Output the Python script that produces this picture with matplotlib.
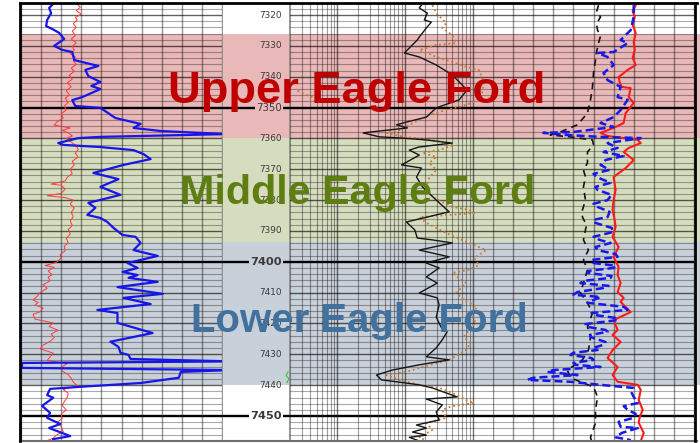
import matplotlib.pyplot as plt
from matplotlib.lines import Line2D
from matplotlib.transforms import blended_transform_factory

# ---- depth window and zones (ft) ----
top_depth, base_depth = 7316.1, 7458.1

zone_names = ['Upper Eagle Ford', 'Middle Eagle Ford', 'Lower Eagle Ford']
zone_tops = [7326.2, 7360.0, 7393.6]
zone_bases = [7360.0, 7393.6, 7440.0]
zone_fill = ['#E9B8B8', '#D6DDBF', '#C8D0D9']
zone_font = ['#C00000', '#5E7E12', '#41719C']
zone_size = [32.6, 29.7, 28.9]
zone_label_depth = [7348.5, 7381.3, 7422.7]

# ---- track 1: gamma ray (blue) and SP (red), scale 0-200 ----
gr_depth = [7316.4, 7317.7, 7319.4, 7321.6, 7323.6, 7324.5, 7325.8, 7327.8, 7330.0, 7331.3,
            7332.0, 7334.6, 7335.9, 7336.5, 7337.8, 7339.8, 7341.7, 7343.0, 7344.0, 7346.6,
            7347.6, 7349.5, 7350.1, 7353.4, 7355.3, 7356.6, 7357.6, 7358.6, 7359.5, 7359.9,
            7361.5, 7362.1, 7362.8, 7363.8, 7365.1, 7366.7, 7368.6, 7371.2, 7373.2, 7375.7,
            7378.3, 7380.9, 7382.5, 7384.8, 7385.8, 7387.1, 7389.0, 7391.3, 7391.9, 7393.9,
            7396.2, 7398.1, 7400.4, 7402.0, 7403.3, 7404.3, 7405.2, 7406.5, 7408.2, 7410.4,
            7411.7, 7413.7, 7415.6, 7416.6, 7419.8, 7423.1, 7425.9, 7427.6, 7429.5, 7430.2,
            7431.5, 7432.3, 7432.8, 7434.4, 7435.1, 7435.7, 7437.6, 7439.3, 7440.6, 7441.2,
            7443.2, 7444.1, 7446.7, 7449.0, 7450.6, 7452.6, 7453.9, 7455.5, 7456.5, 7457.5]
gr = [32, 28, 30, 26, 25, 31, 38, 43, 33, 41,
      51, 53, 69, 77, 64, 67, 79, 70, 79, 61,
      51, 54, 79, 94, 119, 112, 139, 205, 79, 57,
      37, 42, 79, 112, 122, 129, 102, 72, 97, 79,
      99, 67, 74, 66, 79, 86, 92, 101, 114, 119,
      112, 136, 106, 116, 101, 116, 107, 136, 96, 141,
      102, 129, 76, 96, 96, 131, 89, 97, 99, 107,
      109, 210, 1, 1, 210, 159, 157, 119, 56, 29,
      26, 32, 21, 29, 26, 39, 28, 41, 49, 32]

sp_depth = [7316.4, 7317.5, 7318.6, 7319.7, 7320.8, 7321.6, 7322.8, 7324.0, 7325.2, 7326.6,
            7327.8, 7329.0, 7330.2, 7331.3, 7332.5, 7333.6, 7334.8, 7336.0, 7337.2, 7338.3,
            7339.5, 7340.8, 7342.0, 7343.2, 7344.5, 7345.8, 7347.0, 7348.3, 7349.5, 7350.8,
            7352.0, 7353.4, 7354.6, 7355.7, 7356.6, 7357.4, 7358.2, 7359.2, 7360.0, 7361.2,
            7362.4, 7363.6, 7364.8, 7366.0, 7367.4, 7368.6, 7370.0, 7371.4, 7372.6, 7373.8,
            7374.8, 7375.2, 7376.4, 7377.8, 7378.6, 7379.2, 7380.0, 7381.2, 7382.6, 7384.0,
            7385.4, 7386.8, 7388.2, 7389.6, 7391.0, 7392.4, 7393.8, 7395.0, 7396.4, 7397.6,
            7398.8, 7400.2, 7401.2, 7401.8, 7403.0, 7404.2, 7405.0, 7406.2, 7407.4, 7408.6,
            7410.0, 7411.2, 7412.4, 7413.2, 7414.0, 7415.0, 7416.2, 7417.0, 7418.6, 7419.8,
            7421.0, 7422.2, 7423.4, 7424.6, 7425.8, 7427.0, 7428.2, 7429.6, 7430.8, 7432.0,
            7433.0, 7434.2, 7435.4, 7436.6, 7437.8, 7439.0, 7440.2, 7441.4, 7442.6, 7444.0,
            7445.4, 7446.6, 7448.0, 7449.4, 7450.8, 7452.0, 7453.4, 7455.0, 7456.2, 7457.2,
            7458.0]
sp = [56, 59, 55, 60, 54, 56, 52, 55, 51, 54,
      50, 55, 51, 53, 49, 54, 52, 55, 50, 53,
      48, 51, 46, 50, 45, 48, 44, 47, 43, 45,
      40, 42, 36, 33, 49, 41, 47, 51, 45, 50,
      55, 57, 54, 57, 51, 53, 49, 51, 46, 44,
      30, 40, 44, 40, 26, 44, 52, 49, 53, 50,
      52, 49, 51, 47, 49, 45, 47, 43, 44, 39,
      40, 35, 24, 33, 27, 31, 27, 29, 22, 26,
      19, 16, 12, 17, 14, 22, 19, 12, 14, 32,
      28, 37, 30, 33, 29, 22, 19, 32, 29, 26,
      46, 40, 41, 47, 50, 52, 56, 42, 47, 46,
      43, 41, 45, 40, 41, 36, 40, 42, 35, 32,
      26]

# ---- track 2: resistivity, log scale 0.2-200 ohm.m ----
rt_depth = [7316.8, 7317.7, 7319.4, 7321.6, 7322.3, 7324.2, 7327.1, 7328.1, 7332.3, 7333.6,
            7336.2, 7339.4, 7344.3, 7347.5, 7350.1, 7353.1, 7354.7, 7355.6, 7356.6, 7358.2,
            7359.5, 7359.9, 7360.5, 7361.5, 7362.8, 7363.8, 7365.4, 7368.6, 7369.6, 7372.5,
            7375.7, 7380.0, 7383.8, 7387.1, 7389.7, 7392.3, 7392.9, 7393.9, 7396.2, 7398.4,
            7400.4, 7402.0, 7404.9, 7406.9, 7410.1, 7411.7, 7414.0, 7417.9, 7421.1, 7422.7,
            7425.3, 7427.9, 7430.8, 7431.8, 7433.4, 7435.1, 7436.7, 7438.3, 7438.9, 7439.9,
            7440.9, 7443.8, 7444.5, 7446.4, 7448.7, 7451.3, 7452.9, 7453.9, 7455.2, 7456.2,
            7456.9, 7458.1]
rt = [17.5, 16.3, 21.4, 19.3, 24.5, 20.7, 16.3, 15.2, 9.8, 16.3,
      29, 50, 83, 63, 29, 20.7, 10.5, 7.5, 10.9, 2.4,
      4.2, 9.3, 20.7, 50, 16, 11.6, 16.3, 8.9, 17.5, 14.8,
      18.1, 29, 45, 10.5, 14, 15.2, 25.4, 50, 16.3, 45,
      20.7, 32, 20.7, 30, 16.3, 30, 32, 29, 34, 42,
      35.6, 29, 20.7, 45, 16.3, 6.5, 3.8, 4.5, 7.5, 16.3,
      25.4, 59, 20.7, 35.6, 29, 32, 14.8, 20.7, 12.9, 20.7,
      11.6, 16.3]

rxo_depth = [7316.8, 7319.4, 7321.0, 7322.6, 7324.2, 7326.5, 7329.1, 7329.7, 7331.3, 7333.6,
             7335.2, 7336.9, 7337.8, 7342.0, 7346.6, 7348.5, 7349.8, 7350.8, 7352.4, 7354.0,
             7355.6, 7357.3, 7358.2, 7359.2, 7360.5, 7362.1, 7363.8, 7364.7, 7366.0, 7368.0,
             7370.2, 7372.8, 7375.7, 7379.0, 7382.2, 7383.2, 7384.2, 7385.5, 7387.4, 7390.7,
             7393.9, 7396.2, 7398.8, 7401.0, 7402.6, 7403.6, 7406.9, 7410.1, 7412.4, 7414.6,
             7417.2, 7419.8, 7422.1, 7424.4, 7426.3, 7428.6, 7431.8, 7434.1, 7435.7, 7436.7,
             7438.3, 7439.9, 7440.9, 7442.5, 7444.8, 7445.8, 7446.8, 7448.0, 7450.6, 7452.2,
             7454.5, 7456.9, 7458.1]
rxo = [25.4, 29, 34.4, 40.7, 35.6, 50, 57, 29, 16.3, 29,
       50, 83, 124, 148, 134, 98, 63, 40.7, 22.9, 16.3,
       11.6, 8.3, 5.3, 8.3, 22.9, 53, 32, 18, 29, 22.9,
       29, 22.9, 20.7, 25.4, 50, 89, 105, 16.3, 20.7, 40.7,
       89, 158, 105, 124, 89, 50, 80, 57, 74, 116,
       98, 110, 89, 74, 93, 80, 45, 18, 10.5, 5.3,
       8.3, 16.3, 32, 50, 80, 105, 50, 35.6, 40.7, 20.7,
       25.4, 16.3, 21.4]

# wrapped (backup) part of the shallow curve
rxo_wrap_depth = [7344.6, 7345.6, 7346.6, 7347.5, 7348.2]
rxo_wrap = [0.26, 0.33, 0.42, 0.55, 0.40]

cal_depth = [7435.7, 7436.9, 7437.9, 7439.2]
cal = [0.187, 0.175, 0.193, 0.180]

# ---- track 3: porosity / density / sonic, scale 0-200 ----
nphi_depth = [7316.8, 7319.0, 7320.6, 7322.9, 7324.9, 7326.8, 7329.1, 7332.0, 7334.6, 7338.8,
              7343.3, 7347.5, 7351.8, 7355.6, 7357.9, 7358.9, 7359.5, 7360.5, 7362.1, 7364.4,
              7368.0, 7370.2, 7372.5, 7375.7, 7380.0, 7383.2, 7385.5, 7388.1, 7389.7, 7392.9,
              7396.2, 7399.4, 7402.6, 7406.9, 7410.1, 7413.3, 7416.6, 7421.1, 7424.4, 7428.6,
              7431.8, 7435.1, 7437.6, 7438.9, 7440.6, 7443.8, 7448.0, 7452.2, 7456.9, 7458.1]
nphi = [105, 103, 107, 103, 104, 107, 105, 103, 102, 100,
        99, 97, 94, 84, 67, 57, 77, 99, 100, 94,
        94, 90, 92, 90, 92, 89, 89, 93, 92, 90,
        95, 90, 94, 90, 87, 94, 99, 94, 97, 95,
        89, 74, 77, 87, 100, 104, 102, 102, 97, 98]

dt_depth = [7316.8, 7318.7, 7320.6, 7323.2, 7325.8, 7328.8, 7331.3, 7333.9, 7336.2, 7337.8,
            7340.1, 7341.7, 7343.3, 7343.7, 7346.6, 7348.5, 7351.8, 7355.0, 7356.6, 7358.2,
            7359.2, 7360.5, 7361.5, 7363.1, 7364.4, 7367.0, 7369.6, 7372.5, 7376.7, 7380.0,
            7383.2, 7386.4, 7388.7, 7391.9, 7395.2, 7398.4, 7401.7, 7404.3, 7406.9, 7409.8,
            7411.7, 7413.0, 7416.3, 7418.9, 7422.1, 7423.7, 7426.0, 7428.6, 7431.2, 7434.1,
            7436.7, 7438.9, 7439.9, 7441.5, 7444.8, 7448.0, 7450.3, 7452.2, 7455.5, 7458.1]
dt = [142, 139, 141, 139, 142, 140, 141, 139, 142, 134,
      125, 126, 128, 137, 135, 140, 132, 130, 120, 107,
      114, 144, 147, 135, 130, 140, 132, 120, 122, 120,
      119, 121, 122, 119, 125, 120, 125, 124, 127, 124,
      130, 127, 137, 120, 124, 119, 127, 119, 114, 124,
      119, 124, 144, 147, 145, 149, 146, 145, 150, 147]

rhob_depth = [7316.8, 7320.6, 7324.9, 7328.1, 7329.1, 7332.0, 7332.3, 7333.6, 7336.2, 7338.8,
              7341.1, 7343.3, 7346.6, 7347.5, 7350.8, 7353.1, 7355.0, 7356.3, 7357.9, 7358.2,
              7358.9, 7359.5, 7359.9, 7361.5, 7363.1, 7364.4, 7365.7, 7367.0, 7368.6, 7370.2,
              7371.5, 7372.5, 7374.4, 7375.7, 7376.7, 7378.3, 7380.0, 7381.2, 7382.2, 7383.8,
              7385.5, 7386.4, 7387.4, 7389.0, 7390.3, 7391.9, 7392.9, 7393.9, 7395.2, 7396.2,
              7397.5, 7398.4, 7399.4, 7400.4, 7401.3, 7402.0, 7402.9, 7403.6, 7404.6, 7405.2,
              7406.2, 7406.9, 7407.8, 7408.5, 7409.8, 7410.7, 7411.4, 7412.4, 7413.3, 7414.6,
              7415.6, 7416.6, 7417.2, 7418.2, 7418.9, 7420.2, 7421.1, 7422.1, 7422.7, 7423.7,
              7424.4, 7426.0, 7426.9, 7427.9, 7428.6, 7429.5, 7430.2, 7431.2, 7431.8, 7432.8,
              7433.4, 7434.1, 7435.1, 7435.7, 7436.7, 7437.6, 7438.3, 7438.9, 7439.9, 7440.9,
              7442.5, 7443.8, 7445.8, 7446.8, 7448.0, 7449.3, 7450.6, 7451.9, 7453.5, 7453.9,
              7455.5, 7456.9, 7457.8]
rhob = [140, 140, 137, 127, 134, 120, 104, 114, 120, 110,
        114, 127, 124, 134, 127, 120, 107, 120, 80, 50,
        74, 107, 147, 114, 124, 110, 130, 112, 107, 116,
        100, 103, 117, 102, 104, 118, 114, 100, 104, 116,
        114, 100, 102, 118, 120, 100, 106, 117, 102, 104,
        122, 124, 98, 100, 122, 120, 96, 94, 118, 117,
        90, 87, 115, 110, 84, 80, 107, 100, 94, 130,
        134, 98, 100, 122, 124, 92, 94, 112, 114, 97,
        97, 112, 110, 100, 104, 80, 77, 98, 100, 80,
        82, 107, 60, 54, 84, 40, 34, 77, 107, 140,
        138, 140, 144, 130, 134, 142, 140, 125, 127, 144,
        128, 122, 137]

# ---- layout (pixels of a 700 x 443 canvas) ----
FW, FH = 700.0, 443.0
Y0, Y1 = 3, 441

fig = plt.figure(figsize=(7.0, 4.43), dpi=100)


def add_track(x0, x1):
    ax = fig.add_axes([x0 / FW, 1 - Y1 / FH, (x1 - x0) / FW, (Y1 - Y0) / FH])
    ax.set_ylim(base_depth, top_depth)
    ax.set_facecolor('none')
    for s in ax.spines.values():
        s.set_visible(False)
    return ax


def no_ticks(ax):
    ax.set_xticks([])
    ax.set_xticks([], minor=True)
    ax.set_yticks([])


def depth_grid(ax):
    for d in range(7318, 7458, 2):
        if d % 50 == 0:
            ax.axhline(d, color='black', lw=1.7, zorder=1)
        elif d % 10 == 0:
            ax.axhline(d, color='black', lw=1.0, alpha=0.62, zorder=1)
        else:
            ax.axhline(d, color='black', lw=0.8, alpha=0.33, zorder=1)


def zone_colour(d):
    for t, b, c in zip(zone_tops, zone_bases, zone_fill):
        if t <= d <= b:
            return c
    return 'white'


# zone shading behind all tracks
bg = add_track(21, 700)
no_ticks(bg)
for t, b, c in zip(zone_tops, zone_bases, zone_fill):
    bg.axhspan(b, t, color=c, lw=0)

# track 1
ax1 = add_track(21, 222)
ax1.set_xlim(0, 200)
no_ticks(ax1)
depth_grid(ax1)
for v in range(0, 201, 20):
    ax1.axvline(v, color='black', lw=1.0, alpha=0.42, zorder=1)
ax1.plot(sp, sp_depth, color='#FF3A3A', lw=0.7, zorder=3)
ax1.plot(gr, gr_depth, color='#1616E6', lw=1.6, zorder=4)

# depth track
axd = add_track(222, 290)
axd.set_xlim(0, 1)
no_ticks(axd)
for xe in (0, 1):
    axd.axvline(xe, color='#8C8C8C', lw=1.3)
for d in range(7350, 7451, 50):
    axd.axhline(d, color='black', lw=1.7)
for d in range(7320, 7451, 10):
    big = d in (7400, 7450)
    size = 8.2 if big else (7.3 if d == 7350 else 6.4)
    box = dict(fc=zone_colour(d), ec='none', pad=0.8) if d % 50 == 0 else None
    axd.text(0.88, d, str(d), transform=axd.get_yaxis_transform(), ha='right', va='center',
             fontsize=size, fontweight='bold' if big else 'normal', color='#3A3A3A', bbox=box)

# track 2 (logarithmic)
ax2 = add_track(290, 493)
ax2.set_xscale('log')
ax2.set_xlim(0.2, 200)
no_ticks(ax2)
depth_grid(ax2)
for e in (-1, 0, 1, 2):
    for k in range(1, 10):
        v = k * 10.0 ** e
        if 0.2 <= v <= 200:
            ax2.axvline(v, color='black', lw=1.0 if k == 1 else 0.8,
                        alpha=0.55 if k == 1 else 0.38, zorder=1)
ax2.plot(rxo, rxo_depth, color='#C77A30', lw=1.3, ls=(0, (1, 1.6)), zorder=3)
ax2.plot(rxo_wrap, rxo_wrap_depth, color='#C77A30', lw=1.3, ls=(0, (1, 1.6)), zorder=3)
ax2.plot(rt, rt_depth, color='#161616', lw=1.0, zorder=4)
ax2.plot(cal, cal_depth, color='#3CC03C', lw=0.8, clip_on=False, zorder=4)

# track 3
ax3 = add_track(493, 694)
ax3.set_xlim(0, 200)
no_ticks(ax3)
depth_grid(ax3)
for v in range(0, 201, 20):
    ax3.axvline(v, color='black', lw=1.0, alpha=0.42, zorder=1)
ax3.plot(dt, dt_depth, color='#FF1A1A', lw=1.5, zorder=3)
ax3.plot(nphi, nphi_depth, color='#141414', lw=1.2, dashes=(4, 3), zorder=4)
ax3.plot(rhob, rhob_depth, color='#1818E8', lw=1.8, dashes=(3.2, 1.6), zorder=5)

# outer frame
fig.add_artist(Line2D([20 / FW, 697 / FW], [1 - 3 / FH] * 2, color='black', lw=2.0,
                      transform=fig.transFigure))
fig.add_artist(Line2D([20 / FW, 697 / FW], [1 - 441 / FH] * 2, color='#6E6E6E', lw=1.5,
                      transform=fig.transFigure))
for xp in (20, 694.5):
    fig.add_artist(Line2D([xp / FW] * 2, [1 - 3 / FH, 1 - 441 / FH], color='black', lw=2.0,
                          transform=fig.transFigure))

# zone names
title_tr = blended_transform_factory(fig.transFigure, bg.transData)
centres = [357, 357.5, 359]
for name, cx, dep, col, fs in zip(zone_names, centres, zone_label_depth, zone_font, zone_size):
    fig.text(cx / FW, dep, name, transform=title_tr, ha='center', va='baseline',
             fontsize=fs, family='Liberation Sans', fontweight='bold', color=col, zorder=10)

fig.savefig('out.png', dpi=100)
